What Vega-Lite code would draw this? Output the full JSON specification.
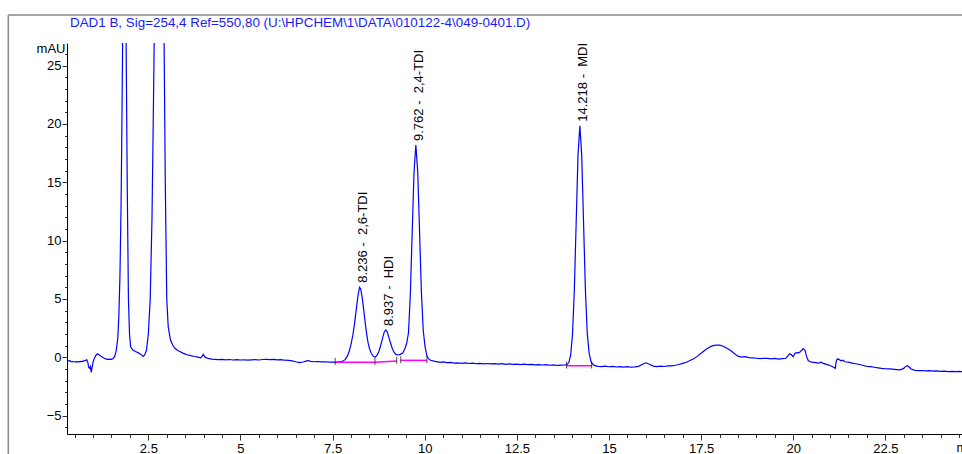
{
"$schema": "https://vega.github.io/schema/vega-lite/v6.json",
"width": 895, "height": 391,
"autosize": "none",
"padding": {"left": 67, "top": 43, "right": 0, "bottom": 20},
"background": "white",
"title": {"text": "DAD1 B, Sig=254,4 Ref=550,80 (U:\\HPCHEM\\1\\DATA\\010122-4\\049-0401.D)", "anchor": "start", "frame": "group", "dx": 3, "offset": -26, "baseline": "alphabetic", "font": "Liberation Sans", "fontSize": 13.4, "fontWeight": "normal", "color": "#1a1aff"},
"config": {"view": {"stroke": null}, "axis": {"grid": false, "labelFont": "Liberation Sans", "labelFontSize": 13, "labelColor": "#000", "titleFont": "Liberation Sans", "titleFontSize": 13, "titleFontWeight": "normal", "titleColor": "#000", "domainColor": "#000", "tickColor": "#333", "labelFlush": false, "labelOverlap": false}},
"datasets": {
"trace": [
{"t":0.29,"a":-0.36},{"t":0.33,"a":-0.30},{"t":0.37,"a":-0.28},{"t":0.40,"a":-0.38},{"t":0.45,"a":-0.36},{"t":0.50,"a":-0.40},{"t":0.55,"a":-0.37},{"t":0.60,"a":-0.39},{"t":0.65,"a":-0.35},{"t":0.70,"a":-0.37},{"t":0.75,"a":-0.31},{"t":0.80,"a":-0.27},{"t":0.83,"a":-0.2},{"t":0.86,"a":-0.45},{"t":0.88,"a":-0.85},{"t":0.91,"a":-0.95},{"t":0.93,"a":-0.8},{"t":0.95,"a":-1.3},{"t":0.97,"a":-0.95},{"t":1.00,"a":-0.4},{"t":1.04,"a":-0.05},{"t":1.08,"a":0.18},{"t":1.12,"a":0.3},{"t":1.16,"a":0.22},{"t":1.22,"a":0.08},{"t":1.28,"a":-0.04},{"t":1.34,"a":-0.14},{"t":1.40,"a":-0.17},{"t":1.46,"a":-0.15},{"t":1.50,"a":-0.18},{"t":1.55,"a":-0.1},
{"t":1.59,"a":0.1},{"t":1.63,"a":0.6},{"t":1.67,"a":1.6},{"t":1.70,"a":3.5},{"t":1.73,"a":7},{"t":1.76,"a":13},{"t":1.78,"a":19},{"t":1.80,"a":26},{"t":1.82,"a":34},{"t":1.84,"a":40},{"t":1.87,"a":36},{"t":1.90,"a":26},{"t":1.93,"a":14},{"t":1.96,"a":5},{"t":1.99,"a":2.0},{"t":2.02,"a":0.9},{"t":2.08,"a":0.62},{"t":2.15,"a":0.5},{"t":2.22,"a":0.4},{"t":2.30,"a":0.25},{"t":2.36,"a":0.08},
{"t":2.40,"a":0.2},{"t":2.45,"a":0.6},{"t":2.50,"a":2.0},{"t":2.55,"a":4.9},{"t":2.60,"a":12},{"t":2.64,"a":22},{"t":2.67,"a":30},{"t":2.72,"a":45},{"t":2.80,"a":55},{"t":2.88,"a":45},{"t":2.92,"a":30},{"t":2.96,"a":15},{"t":3.00,"a":5},{"t":3.04,"a":2.6},{"t":3.10,"a":1.5},{"t":3.16,"a":1.05},{"t":3.22,"a":0.77},{"t":3.30,"a":0.58},{"t":3.38,"a":0.45},{"t":3.45,"a":0.34},{"t":3.55,"a":0.22},{"t":3.65,"a":0.14},{"t":3.75,"a":0.07},{"t":3.85,"a":0.02},{"t":3.92,"a":-0.05},{"t":3.96,"a":0.1},{"t":3.99,"a":0.25},{"t":4.03,"a":0.05},{"t":4.08,"a":-0.05},{"t":4.15,"a":-0.12},{"t":4.22,"a":-0.16},
{"t":4.3,"a":-0.17},{"t":4.4,"a":-0.2},{"t":4.5,"a":-0.18},{"t":4.6,"a":-0.22},{"t":4.7,"a":-0.19},{"t":4.8,"a":-0.23},{"t":4.9,"a":-0.2},{"t":5.0,"a":-0.23},{"t":5.1,"a":-0.21},{"t":5.2,"a":-0.25},{"t":5.3,"a":-0.22},{"t":5.4,"a":-0.2},{"t":5.5,"a":-0.23},{"t":5.6,"a":-0.19},{"t":5.7,"a":-0.17},{"t":5.8,"a":-0.2},{"t":5.9,"a":-0.18},{"t":6.0,"a":-0.22},{"t":6.1,"a":-0.2},{"t":6.2,"a":-0.25},{"t":6.3,"a":-0.27},{"t":6.4,"a":-0.3},{"t":6.5,"a":-0.38},{"t":6.6,"a":-0.45},{"t":6.7,"a":-0.4},{"t":6.8,"a":-0.3},{"t":6.85,"a":-0.28},{"t":6.9,"a":-0.35},{"t":7.0,"a":-0.38},{"t":7.1,"a":-0.36},{"t":7.2,"a":-0.4},{"t":7.3,"a":-0.38},{"t":7.4,"a":-0.42},{"t":7.5,"a":-0.41},{"t":7.57,"a":-0.43},
{"t":7.65,"a":-0.40},{"t":7.72,"a":-0.38},{"t":7.78,"a":-0.32},{"t":7.84,"a":-0.2},{"t":7.90,"a":0.1},{"t":7.95,"a":0.5},{"t":8.00,"a":1.1},{"t":8.05,"a":1.9},{"t":8.10,"a":3.0},{"t":8.15,"a":4.3},{"t":8.19,"a":5.3},{"t":8.23,"a":6.0},{"t":8.26,"a":5.9},{"t":8.30,"a":5.2},{"t":8.34,"a":4.2},{"t":8.38,"a":3.1},{"t":8.42,"a":2.1},{"t":8.46,"a":1.3},{"t":8.50,"a":0.75},{"t":8.55,"a":0.35},{"t":8.60,"a":0.1},{"t":8.65,"a":0.0},
{"t":8.70,"a":0.15},{"t":8.75,"a":0.45},{"t":8.80,"a":0.95},{"t":8.85,"a":1.55},{"t":8.90,"a":2.15},{"t":8.94,"a":2.34},{"t":8.98,"a":2.2},{"t":9.02,"a":1.8},{"t":9.07,"a":1.25},{"t":9.12,"a":0.75},{"t":9.17,"a":0.42},{"t":9.22,"a":0.25},{"t":9.28,"a":0.2},{"t":9.34,"a":0.25},{"t":9.40,"a":0.35},{"t":9.46,"a":0.7},{"t":9.51,"a":1.2},
{"t":9.56,"a":2.1},{"t":9.61,"a":5.4},{"t":9.66,"a":10.7},{"t":9.71,"a":15.9},{"t":9.76,"a":18.2},{"t":9.81,"a":15.9},{"t":9.86,"a":10.8},{"t":9.91,"a":5.6},{"t":9.96,"a":2.3},{"t":10.01,"a":0.9},{"t":10.06,"a":0.1},{"t":10.10,"a":-0.12},{"t":10.16,"a":-0.25},{"t":10.25,"a":-0.33},{"t":10.42,"a":-0.43},
{"t":10.5,"a":-0.40},{"t":10.6,"a":-0.46},{"t":10.7,"a":-0.44},{"t":10.8,"a":-0.50},{"t":10.9,"a":-0.47},{"t":11.0,"a":-0.52},{"t":11.1,"a":-0.48},{"t":11.2,"a":-0.53},{"t":11.3,"a":-0.50},{"t":11.4,"a":-0.55},{"t":11.5,"a":-0.52},{"t":11.6,"a":-0.56},{"t":11.7,"a":-0.53},{"t":11.8,"a":-0.57},{"t":11.9,"a":-0.55},{"t":12.0,"a":-0.58},{"t":12.1,"a":-0.55},{"t":12.2,"a":-0.60},{"t":12.3,"a":-0.57},{"t":12.4,"a":-0.60},{"t":12.5,"a":-0.58},{"t":12.6,"a":-0.62},{"t":12.7,"a":-0.59},{"t":12.8,"a":-0.63},{"t":12.9,"a":-0.60},{"t":13.0,"a":-0.65},{"t":13.1,"a":-0.62},{"t":13.2,"a":-0.66},{"t":13.3,"a":-0.63},{"t":13.4,"a":-0.68},{"t":13.5,"a":-0.65},{"t":13.6,"a":-0.70},{"t":13.7,"a":-0.67},{"t":13.8,"a":-0.66},
{"t":13.86,"a":-0.62},{"t":13.91,"a":-0.45},{"t":13.96,"a":0.19},{"t":14.01,"a":1.96},{"t":14.06,"a":5.74},{"t":14.11,"a":11.55},{"t":14.16,"a":17.35},{"t":14.21,"a":19.85},{"t":14.26,"a":17.35},{"t":14.31,"a":11.6},{"t":14.36,"a":5.8},{"t":14.41,"a":2.1},{"t":14.46,"a":0.4},{"t":14.51,"a":-0.35},{"t":14.56,"a":-0.6},{"t":14.62,"a":-0.72},{"t":14.7,"a":-0.78},
{"t":14.8,"a":-0.80},{"t":14.9,"a":-0.76},{"t":15.0,"a":-0.81},{"t":15.1,"a":-0.78},{"t":15.2,"a":-0.83},{"t":15.3,"a":-0.80},{"t":15.4,"a":-0.84},{"t":15.5,"a":-0.80},{"t":15.6,"a":-0.85},{"t":15.7,"a":-0.82},{"t":15.8,"a":-0.78},{"t":15.9,"a":-0.62},{"t":16.0,"a":-0.47},{"t":16.1,"a":-0.6},{"t":16.2,"a":-0.75},{"t":16.3,"a":-0.8},{"t":16.4,"a":-0.76},{"t":16.5,"a":-0.79},{"t":16.6,"a":-0.74},{"t":16.7,"a":-0.73},{"t":16.8,"a":-0.68},{"t":16.9,"a":-0.62},{"t":17.0,"a":-0.52},{"t":17.1,"a":-0.42},{"t":17.2,"a":-0.28},{"t":17.3,"a":-0.12},{"t":17.4,"a":0.1},{"t":17.5,"a":0.35},{"t":17.6,"a":0.6},{"t":17.7,"a":0.82},{"t":17.8,"a":0.98},{"t":17.9,"a":1.05},{"t":18.0,"a":1.05},{"t":18.1,"a":0.95},{"t":18.2,"a":0.78},{"t":18.3,"a":0.58},{"t":18.4,"a":0.32},{"t":18.5,"a":0.1},{"t":18.6,"a":0.02},{"t":18.7,"a":0.05},{"t":18.8,"a":-0.02},{"t":18.9,"a":-0.05},{"t":19.0,"a":-0.08},{"t":19.1,"a":-0.12},{"t":19.2,"a":-0.08},{"t":19.3,"a":-0.1},{"t":19.4,"a":-0.14},{"t":19.5,"a":-0.1},{"t":19.6,"a":-0.16},{"t":19.7,"a":-0.12},{"t":19.8,"a":-0.08},{"t":19.85,"a":0.1},{"t":19.9,"a":0.3},{"t":19.95,"a":0.22},{"t":20.0,"a":0.05},{"t":20.05,"a":0.35},{"t":20.1,"a":0.4},{"t":20.15,"a":0.38},{"t":20.2,"a":0.5},{"t":20.27,"a":0.75},{"t":20.32,"a":0.6},{"t":20.36,"a":0.1},{"t":20.41,"a":-0.3},{"t":20.5,"a":-0.42},{"t":20.6,"a":-0.45},{"t":20.7,"a":-0.5},{"t":20.75,"a":-0.4},{"t":20.8,"a":-0.5},{"t":20.9,"a":-0.6},{"t":21.0,"a":-0.7},{"t":21.1,"a":-0.85},{"t":21.14,"a":-0.95},{"t":21.17,"a":-0.3},{"t":21.2,"a":-0.12},{"t":21.25,"a":-0.2},{"t":21.3,"a":-0.3},{"t":21.35,"a":-0.25},{"t":21.4,"a":-0.38},{"t":21.5,"a":-0.42},{"t":21.6,"a":-0.5},{"t":21.7,"a":-0.55},{"t":21.8,"a":-0.62},{"t":21.9,"a":-0.7},{"t":22.0,"a":-0.78},{"t":22.1,"a":-0.8},{"t":22.2,"a":-0.85},{"t":22.3,"a":-0.9},{"t":22.4,"a":-0.95},{"t":22.5,"a":-0.98},{"t":22.6,"a":-1.0},{"t":22.7,"a":-1.02},{"t":22.8,"a":-1.05},{"t":22.9,"a":-1.08},{"t":23.0,"a":-0.95},{"t":23.05,"a":-0.78},{"t":23.1,"a":-0.72},{"t":23.15,"a":-0.85},{"t":23.2,"a":-1.0},{"t":23.3,"a":-1.12},{"t":23.4,"a":-1.15},{"t":23.5,"a":-1.13},{"t":23.6,"a":-1.17},{"t":23.7,"a":-1.15},{"t":23.8,"a":-1.19},{"t":23.9,"a":-1.17},{"t":24.0,"a":-1.2},{"t":24.1,"a":-1.18},{"t":24.2,"a":-1.22},{"t":24.3,"a":-1.2},{"t":24.4,"a":-1.23},{"t":24.5,"a":-1.21},{"t":24.6,"a":-1.24}
],
"base": [
{"t1":7.57,"v1":-0.43,"t2":8.65,"v2":-0.43},
{"t1":8.65,"v1":-0.43,"t2":9.24,"v2":-0.32},
{"t1":9.35,"v1":-0.26,"t2":10.06,"v2":-0.26},
{"t1":13.85,"v1":-0.72,"t2":14.53,"v2":-0.73}
],
"marks": [
{"t":7.57,"v":-0.35},{"t":8.65,"v":-0.35},{"t":9.24,"v":-0.25},{"t":9.35,"v":-0.2},{"t":10.06,"v":-0.2},{"t":13.85,"v":-0.65},{"t":14.53,"v":-0.65}
],
"peaks": [
{"t":8.236,"h":6.05,"label":"8.236 -\u00a0 2,6-TDI"},
{"t":8.937,"h":2.34,"label":"8.937 -\u00a0 HDI"},
{"t":9.762,"h":18.2,"label":"9.762 -\u00a0 2,4-TDI"},
{"t":14.218,"h":19.85,"label":"14.218 -\u00a0 MDI"}
]
},
"layer": [
{"data": {"name": "trace"}, "mark": {"type": "line", "color": "#0000ff", "strokeWidth": 1.2, "clip": true},
 "encoding": {
  "x": {"field": "t", "type": "quantitative", "scale": {"domain": [0.293, 24.58], "nice": false, "zero": false},
        "axis": {"orient": "bottom", "values": [2.5,5,7.5,10,12.5,15,17.5,20,22.5], "tickSize": 6, "labelPadding": 2, "labelExpr": "'' + datum.value", "title": "min", "titleX": 889, "titleY": 17, "titleAlign": "left", "titleBaseline": "alphabetic", "titleAnchor": "start"}},
  "y": {"field": "a", "type": "quantitative", "scale": {"domain": [-6.574, 26.94], "nice": false, "zero": false},
        "axis": {"orient": "left", "values": [-5,0,5,10,15,20,25], "tickSize": 5, "labelPadding": 1, "title": "mAU", "titleAngle": 0, "titleAlign": "right", "titleBaseline": "middle", "titleX": -2, "titleY": 5.5, "titleAnchor": "start"}}
 }},
{"data": {"name": "base"}, "mark": {"type": "rule", "color": "#ff00ff", "strokeWidth": 1.5},
 "encoding": {
  "x": {"field": "t1", "type": "quantitative", "axis": {"orient": "bottom", "values": [0.5,1,1.5,2,2.5,3,3.5,4,4.5,5,5.5,6,6.5,7,7.5,8,8.5,9,9.5,10,10.5,11,11.5,12,12.5,13,13.5,14,14.5,15,15.5,16,16.5,17,17.5,18,18.5,19,19.5,20,20.5,21,21.5,22,22.5,23,23.5,24,24.5], "tickSize": 3.5, "labels": false, "domain": false, "title": null}},
  "x2": {"field": "t2"},
  "y": {"field": "v1", "type": "quantitative", "axis": {"orient": "left", "values": [-6,-5,-4,-3,-2,-1,0,1,2,3,4,5,6,7,8,9,10,11,12,13,14,15,16,17,18,19,20,21,22,23,24,25,26], "tickSize": 2.5, "labels": false, "domain": false, "title": null}},
  "y2": {"field": "v2"}
 }},
{"data": {"name": "marks"}, "mark": {"type": "tick", "orient": "vertical", "color": "#000", "thickness": 1, "size": 7},
 "encoding": {
  "x": {"field": "t", "type": "quantitative", "axis": null},
  "y": {"field": "v", "type": "quantitative", "axis": null}
 }},
{"data": {"name": "peaks"}, "mark": {"type": "text", "angle": 270, "align": "left", "baseline": "middle", "dx": 4, "dy": 3, "font": "Liberation Sans", "fontSize": 13, "color": "#000"},
 "encoding": {
  "x": {"field": "t", "type": "quantitative", "axis": null},
  "y": {"field": "h", "type": "quantitative", "axis": null},
  "text": {"field": "label"}
 }},
{"data": {"values": [{"side": "left"}]}, "mark": {"type": "rule", "color": "#888", "strokeWidth": 1.5, "clip": false},
 "encoding": {"x": {"datum": -1.3, "type": "quantitative", "axis": null}, "y": {"datum": 29.34, "type": "quantitative", "axis": null}, "y2": {"datum": -9}}},
{"data": {"values": [{"side": "top"}]}, "mark": {"type": "rule", "color": "#888", "strokeWidth": 1.5, "clip": false},
 "encoding": {"x": {"datum": -1.3, "type": "quantitative", "axis": null}, "x2": {"datum": 26}, "y": {"datum": 29.34, "type": "quantitative", "axis": null}}}
],
"resolve": {"axis": {"x": "independent", "y": "independent"}}
}
